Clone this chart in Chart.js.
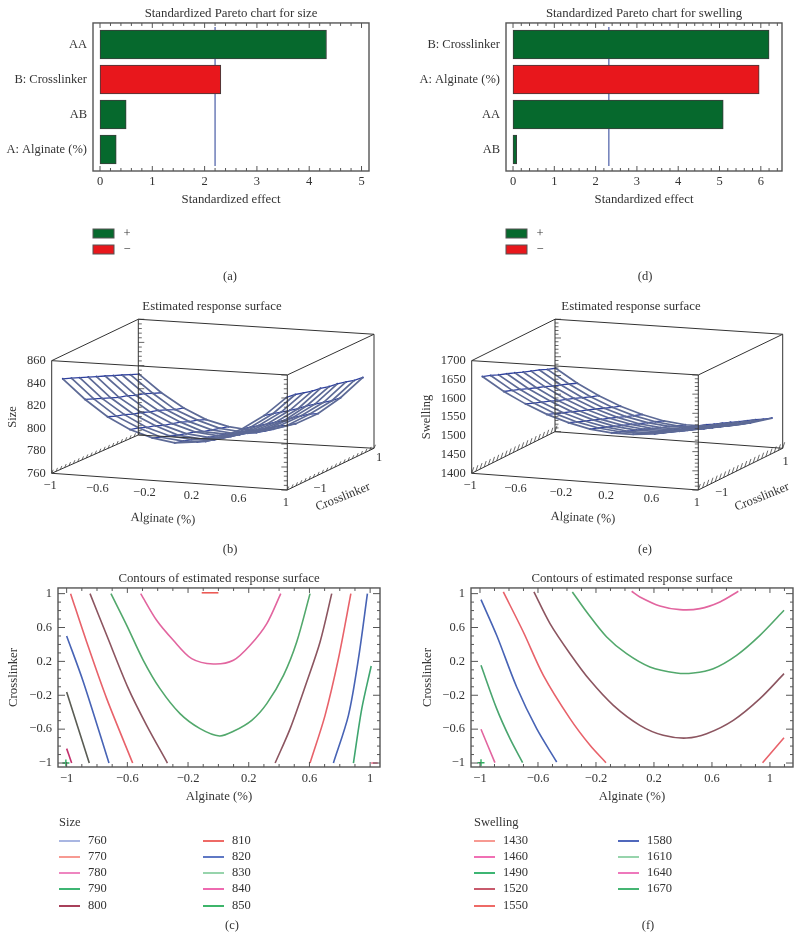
<!DOCTYPE html>
<html>
<head>
<meta charset="utf-8">
<script src="https://cdn.jsdelivr.net/npm/chart.js@4"></script>
<style>
  html, body { margin: 0; background: #fff; }
  canvas { position: absolute; }
</style>
</head>
<body>
<canvas id="chartA" width="400" height="290" style="left:0;top:0"></canvas>
<canvas id="chartD" width="400" height="290" style="left:400px;top:0"></canvas>
<canvas id="chartB" width="400" height="265" style="left:0;top:295px"></canvas>
<canvas id="chartE" width="400" height="265" style="left:400px;top:295px"></canvas>
<canvas id="chartC" width="400" height="375" style="left:0;top:565px"></canvas>
<canvas id="chartF" width="400" height="375" style="left:400px;top:565px"></canvas>
<script>
// pareto charts
const sizeEffects = ["AA", "B: Crosslinker", "AB", "A: Alginate (%)"];
const sizeEffectValues = [4.33, 2.31, 0.5, 0.31];
const sizeEffectSigns = ["+", "-", "+", "+"];
const sizeThreshold = 2.2;
const sizeEffectTicks = [0, 1, 2, 3, 4, 5];

const swellEffects = ["B: Crosslinker", "A: Alginate (%)", "AA", "AB"];
const swellEffectValues = [6.2, 5.96, 5.09, 0.09];
const swellEffectSigns = ["+", "-", "+", "+"];
const swellThreshold = 2.32;
const swellEffectTicks = [0, 1, 2, 3, 4, 5, 6];

// response surfaces: one row per alginate value, one column per crosslinker value
const surfaceAlginate = [-0.95, -0.76, -0.57, -0.38, -0.19, 0, 0.19, 0.38, 0.57, 0.76, 0.95];
const surfaceCrosslinker = [-0.88, -0.68, -0.49, -0.29, -0.1, 0.1, 0.29, 0.49, 0.68, 0.88];
const sizeSurface = [
  [842, 839, 836, 833, 830, 827, 824, 821, 818, 815],
  [825, 822, 819, 816, 813, 811, 808, 806, 803, 800],
  [811, 808, 806, 803, 801, 798, 796, 793, 790, 788],
  [801, 799, 796, 794, 791, 789, 787, 784, 782, 779],
  [795, 792, 790, 787, 785, 783, 780, 778, 776, 774],
  [792, 790, 788, 785, 783, 781, 779, 776, 774, 772],
  [794, 791, 789, 787, 785, 783, 781, 778, 776, 774],
  [799, 797, 795, 793, 791, 789, 787, 785, 782, 780],
  [808, 806, 804, 802, 800, 798, 797, 795, 793, 790],
  [821, 819, 817, 815, 813, 812, 810, 808, 806, 805],
  [838, 837, 835, 833, 832, 830, 829, 827, 825, 824],
];
const swellSurface = [
  [1652, 1644, 1635, 1627, 1619, 1610, 1602, 1594, 1585, 1577],
  [1616, 1608, 1600, 1591, 1583, 1575, 1566, 1558, 1550, 1541],
  [1587, 1578, 1570, 1562, 1553, 1545, 1537, 1528, 1520, 1512],
  [1563, 1554, 1546, 1538, 1529, 1521, 1513, 1504, 1496, 1488],
  [1545, 1536, 1528, 1520, 1511, 1503, 1495, 1486, 1478, 1470],
  [1532, 1524, 1516, 1507, 1499, 1491, 1482, 1474, 1466, 1457],
  [1526, 1518, 1509, 1501, 1493, 1484, 1476, 1468, 1459, 1451],
  [1526, 1518, 1509, 1501, 1493, 1484, 1476, 1468, 1459, 1451],
  [1531, 1523, 1515, 1506, 1498, 1490, 1481, 1473, 1465, 1456],
  [1543, 1534, 1526, 1518, 1509, 1501, 1493, 1484, 1476, 1468],
  [1560, 1552, 1543, 1535, 1527, 1518, 1510, 1502, 1493, 1485],
];
const sizeZTicks = [760, 780, 800, 820, 840, 860];
const swellZTicks = [1400, 1450, 1500, 1550, 1600, 1650, 1700];
const alginateTicks = [-1, -0.6, -0.2, 0.2, 0.6, 1];
const crosslinkerTicks = [-1, -0.6, -0.2, 0.2, 0.6, 1];

// contour lines, [alginate, crosslinker]
const size770 = [[-0.11, 1.01], [0, 1.01]];
const size780 = [[-0.512, 1], [-0.407, 0.685], [-0.297, 0.449], [-0.176, 0.232], [-0.033, 0.169], [0.099, 0.213], [0.209, 0.39], [0.319, 0.646], [0.411, 1]];
const size790 = [[-0.708, 1], [-0.604, 0.626], [-0.495, 0.213], [-0.385, -0.122], [-0.253, -0.417], [-0.121, -0.594], [0.007, -0.681], [0.099, -0.626], [0.22, -0.496], [0.319, -0.299], [0.429, 0.035], [0.516, 0.429], [0.604, 1]];
const size800Left = [[-0.846, 1], [-0.736, 0.508], [-0.593, -0.122], [-0.473, -0.555], [-0.336, -1]];
const size800Right = [[0.374, -1], [0.473, -0.594], [0.582, -0.043], [0.67, 0.429], [0.747, 1]];
const size810Left = [[-0.974, 1], [-0.868, 0.429], [-0.736, -0.24], [-0.565, -1]];
const size810Right = [[0.604, -1], [0.703, -0.437], [0.791, 0.232], [0.873, 1]];
const size820Left = [[-1, 0.5], [-0.89, -0.043], [-0.721, -1]];
const size820Right = [[0.758, -1], [0.857, -0.437], [0.923, 0.232], [0.982, 1]];
const size830Left = [[-1, -0.161], [-0.851, -1]];
const size830Right = [[0.89, -1], [0.945, -0.358], [1.007, 0.146]];
const size840Left = [[-1, -0.83], [-0.967, -1]];
const size840Right = [[1.007, -1], [1.05, -1]];
const size850 = [[-1.005, -1]];

const swell1460 = [[0.046, 1.028], [0.103, 0.961], [0.241, 0.854], [0.379, 0.811], [0.517, 0.823], [0.655, 0.902], [0.782, 1.028]];
const swell1490 = [[-0.363, 1.02], [-0.264, 0.783], [-0.126, 0.488], [0.011, 0.291], [0.172, 0.134], [0.356, 0.063], [0.471, 0.063], [0.609, 0.114], [0.77, 0.272], [0.931, 0.508], [1.097, 0.803]];
const swell1520 = [[-0.628, 1.02], [-0.517, 0.646], [-0.379, 0.291], [-0.241, -0.024], [-0.08, -0.319], [0.103, -0.555], [0.264, -0.673], [0.425, -0.705], [0.563, -0.654], [0.747, -0.496], [0.931, -0.24], [1.097, 0.055]];
const swell1550Left = [[-0.839, 1.02], [-0.701, 0.547], [-0.563, 0.035], [-0.379, -0.476], [-0.241, -0.791], [-0.131, -0.996]];
const swell1550Right = [[0.949, -0.996], [1.097, -0.701]];
const swell1580 = [[-0.993, 0.929], [-0.885, 0.508], [-0.747, -0.102], [-0.609, -0.594], [-0.471, -0.988]];
const swell1610 = [[-0.993, 0.154], [-0.885, -0.358], [-0.793, -0.713], [-0.706, -0.996]];
const swell1640 = [[-0.993, -0.602], [-0.897, -0.996]];
const swell1670 = [[-0.993, -0.996]];

// legends
const sizeLevels = [760, 770, 780, 790, 800, 810, 820, 830, 840, 850];
const sizeKeyColors = ["#a9b6e2", "#f79a92", "#ee86c0", "#3db573", "#a8405a", "#ee6a66", "#5f78c4", "#97d4ac", "#ee6ab0", "#3db56a"];
const swellLevels = [1430, 1460, 1490, 1520, 1550, 1580, 1610, 1640, 1670];
const swellKeyColors = ["#f79a92", "#f070b4", "#3db573", "#c85a6c", "#ee6a66", "#5068bc", "#97d4ac", "#ee78bc", "#45b573"];

const GREEN = "#06692d", RED = "#e8171c", INK = "#333";
const SERIF = "'Liberation Serif', serif";
Chart.defaults.font.family = SERIF;
Chart.defaults.font.size = 12.5;
Chart.defaults.color = INK;
Chart.defaults.animation = false;
Chart.defaults.responsive = false;
Chart.defaults.layout.autoPadding = false;
Chart.defaults.plugins.legend.display = false;
Chart.defaults.plugins.tooltip.enabled = false;

const minus = v => String(v).replace("-", "\u2212");
const titleOpts = text => ({
  display: true, text, fullSize: false,
  font: { size: 12.8, weight: "normal", lineHeight: 1.2 },
  color: INK,
});
const axisTitle = (text, padding) => ({ display: true, text, color: INK, font: { size: 12.8, lineHeight: 1.2 }, padding });

// box and inner tick marks around the plot area
const frame = {
  id: "frame",
  afterDatasetsDraw(chart, args, o) {
    if (!o.show) return;
    const { ctx, chartArea: a, scales: { x, y } } = chart;
    ctx.save();
    ctx.strokeStyle = "#555";
    ctx.lineWidth = 1;
    const tick = (x1, y1, x2, y2) => { ctx.beginPath(); ctx.moveTo(x1, y1); ctx.lineTo(x2, y2); ctx.stroke(); };
    const marks = (from, to, step) => {
      const out = [];
      for (let i = Math.ceil(from / step - 1e-6); i * step <= to + 1e-6; i++) out.push(i * step);
      return out;
    };
    marks(x.min, x.max, o.xMinor).forEach(v => {
      const px = x.getPixelForValue(v);
      const len = o.xMajor.some(m => Math.abs(m - v) < 1e-6) ? 5 : 3;
      tick(px, a.top, px, a.top + len);
      tick(px, a.bottom, px, a.bottom - len);
    });
    if (o.yMinor) marks(y.min, y.max, o.yMinor).forEach(v => {
      const py = y.getPixelForValue(v);
      const len = o.yMajor.some(m => Math.abs(m - v) < 1e-6) ? 7 : 3;
      tick(a.left, py, a.left + len, py);
      tick(a.right, py, a.right - len, py);
    });
    ctx.lineWidth = 1.4;
    ctx.strokeRect(a.left, a.top, a.right - a.left, a.bottom - a.top);
    ctx.restore();
  },
};

// captions, legend keys and the labels of the 3d boxes
const notes = {
  id: "notes",
  afterDraw(chart, args, o) {
    const ctx = chart.ctx;
    ctx.save();
    (o.keys || []).forEach(k => {
      ctx.fillStyle = k.fill;
      ctx.fillRect(k.x, k.y, k.w, k.h);
      if (k.stroke) { ctx.strokeStyle = k.stroke; ctx.lineWidth = 1; ctx.strokeRect(k.x, k.y, k.w, k.h); }
    });
    ctx.fillStyle = INK;
    ctx.font = "12.5px " + SERIF;
    ctx.textBaseline = "middle";
    (o.items || []).forEach(t => {
      ctx.save();
      ctx.translate(t.x, t.y);
      ctx.rotate((t.rot || 0) * Math.PI / 180);
      ctx.textAlign = t.align || "center";
      ctx.fillText(t.text, 0, 0);
      ctx.restore();
    });
    ctx.restore();
  },
};
Chart.register(frame, notes);

function pareto(id, title, names, values, signs, threshold, tickVals, box, xMinor, caption) {
  const left = box.left;
  return new Chart(document.getElementById(id), {
    type: "bar",
    data: {
      datasets: [
        {
          indexAxis: "y",
          data: values.map((v, i) => ({ x: v, y: i })),
          backgroundColor: signs.map(s => (s === "+" ? GREEN : RED)),
          borderColor: "#3c3c3c",
          borderWidth: 1,
          borderSkipped: false,
          barThickness: 29,
          order: 1,
        },
        {
          type: "scatter",
          data: [{ x: threshold, y: -0.5 }, { x: threshold, y: 3.47 }],
          showLine: true,
          pointRadius: 0,
          borderColor: "#6474b4",
          borderWidth: 1.4,
          order: 2,
        },
      ],
    },
    options: {
      layout: { padding: { right: 400 - box.right } },
      scales: {
        x: {
          type: "linear", min: box.xMin, max: box.xMax, offset: false,
          grid: { display: false, drawTicks: false, offset: false }, border: { display: false },
          afterBuildTicks: s => { s.ticks = tickVals.map(v => ({ value: v })); },
          afterFit: s => { s.height = 119; },
          ticks: { padding: 3, maxRotation: 0, autoSkip: false, color: INK },
          title: axisTitle("Standardized effect", { top: 0, bottom: 82.5 }),
        },
        y: {
          type: "linear", reverse: true, min: -0.614, max: 3.614, offset: false,
          grid: { display: false, drawTicks: false, offset: false }, border: { display: false },
          afterBuildTicks: s => { s.ticks = names.map((n, i) => ({ value: i })); },
          afterFit: s => { s.width = left; },
          ticks: { padding: 6, autoSkip: false, color: INK, callback: v => names[v] },
        },
      },
      plugins: {
        title: { ...titleOpts(title), padding: { top: 6.3, bottom: 1.3 } },
        frame: { show: true, xMinor, xMajor: tickVals },
        notes: {
          keys: [
            { x: left, y: 229, w: 21, h: 9, fill: GREEN, stroke: "#555" },
            { x: left, y: 245, w: 21, h: 9, fill: RED, stroke: "#555" },
          ],
          items: [
            { text: "+", x: left + 34, y: 233.5 },
            { text: "\u2212", x: left + 34, y: 250 },
            { text: caption, x: box.capX, y: 277 },
          ],
        },
      },
    },
  });
}

pareto("chartA", "Standardized Pareto chart for size", sizeEffects, sizeEffectValues, sizeEffectSigns, sizeThreshold, sizeEffectTicks,
  { left: 93, right: 369, xMin: -0.134, xMax: 5.143, capX: 230 }, 0.2, "(a)");
pareto("chartD", "Standardized Pareto chart for swelling", swellEffects, swellEffectValues, swellEffectSigns, swellThreshold, swellEffectTicks,
  { left: 106, right: 382, xMin: -0.17, xMax: 6.513, capX: 245 }, 0.2, "(d)");

// maps alginate, crosslinker, z onto the drawn box by its 8 corners
function projector(box, zTicks) {
  const zMin = zTicks[0], zMax = zTicks[zTicks.length - 1];
  return (a, c, z) => {
    const u = (a + 1) / 2, v = (c + 1) / 2, w = (z - zMin) / (zMax - zMin);
    const mix = k => {
      const low = (1 - v) * ((1 - u) * box.fb[0][k] + u * box.fb[1][k]) + v * ((1 - u) * box.bb[0][k] + u * box.bb[1][k]);
      const high = (1 - v) * ((1 - u) * box.ft[0][k] + u * box.ft[1][k]) + v * ((1 - u) * box.bt[0][k] + u * box.bt[1][k]);
      return low + (high - low) * w;
    };
    return { x: mix(0), y: mix(1) };
  };
}

function surfaceChart(id, title, surface, zTicks, zStep, box, look) {
  const p = projector(box, zTicks);
  const zLo = zTicks[0], zHi = zTicks[zTicks.length - 1];
  const line = (data, color, width, extra) => ({ data, borderColor: color, borderWidth: width, pointRadius: 0, showLine: true, spanGaps: false, clip: false, ...extra });

  // wireframe box
  const edges = [];
  [zLo, zHi].forEach(z => {
    edges.push([p(-1, -1, z), p(1, -1, z), p(1, 1, z), p(-1, 1, z), p(-1, -1, z)]);
  });
  [[-1, -1], [1, -1], [1, 1], [-1, 1]].forEach(([a, c]) => edges.push([p(a, c, zLo), p(a, c, zHi)]));

  // tick marks on the box
  const tickPts = [];
  const gap = { x: NaN, y: NaN };
  for (let z = zLo; z <= zHi; z += zStep) {
    const len = zTicks.includes(z) ? 6 : 3.5;
    const back = p(-1, 1, z), front = p(1, -1, z);
    tickPts.push(back, { x: back.x + len, y: back.y }, gap, front, { x: front.x - len, y: front.y }, gap);
  }
  for (let i = 0; i <= 20; i++) {
    const c = -1 + i / 10;
    [-1, 1].forEach(a => {
      const s = p(a, c, zLo);
      tickPts.push(s, { x: s.x + look.hatch[0], y: s.y + look.hatch[1] }, gap);
    });
  }

  // surface lines
  const wires = [];
  surfaceCrosslinker.forEach((c, j) => {
    wires.push(line(surfaceAlginate.map((a, i) => p(a, c, surface[i][j])), "#5d6a96", 1.7));
  });
  surfaceAlginate.forEach((a, i) => {
    wires.push(line(surfaceCrosslinker.map((c, j) => p(a, c, surface[i][j])), "#2f419f", 1.3, { pointRadius: 1, pointBackgroundColor: "#2f419f", pointBorderWidth: 0 }));
  });

  const items = [];
  zTicks.forEach(z => {
    const s = p(-1, -1, z);
    items.push({ text: String(z), x: s.x - 6, y: s.y, align: "right" });
  });
  alginateTicks.forEach(a => {
    const s = p(a, -1, zLo);
    items.push({ text: minus(a), x: s.x - 1.5, y: s.y + 12.4 });
  });
  items.push(...look.text);

  return new Chart(document.getElementById(id), {
    type: "scatter",
    data: {
      datasets: [
        ...edges.map(e => line(e, "#333", 1)),
        line(tickPts, "#444", 0.8),
        ...wires,
      ],
    },
    options: {
      layout: { padding: { left: look.left } },
      scales: {
        x: { type: "linear", display: false, min: look.left, max: 400 },
        y: { type: "linear", display: false, reverse: true, min: 20, max: 265 },
      },
      plugins: {
        title: { ...titleOpts(title), padding: { top: 4.3, bottom: 0.3 } },
        notes: { items },
      },
    },
  });
}

surfaceChart("chartB", "Estimated response surface", sizeSurface, sizeZTicks, 4,
  {
    fb: [[51.7, 178.3], [287.3, 195]], bb: [[138.3, 140], [374, 153.3]],
    ft: [[51.7, 65.7], [287.3, 80]], bt: [[138.3, 24.3], [374, 39.3]],
  },
  {
    left: 24, hatch: [1.5, -3.5],
    text: [
      { text: "\u22121", x: 320, y: 194 },
      { text: "1", x: 379, y: 163 },
      { text: "Alginate (%)", x: 163, y: 224, rot: 2.5 },
      { text: "Crosslinker", x: 343, y: 202, rot: -22 },
      { text: "Size", x: 13, y: 122, rot: -90 },
      { text: "(b)", x: 230, y: 255 },
    ],
  });
surfaceChart("chartE", "Estimated response surface", swellSurface, swellZTicks, 10,
  {
    fb: [[71.7, 178.3], [298.3, 195]], bb: [[155, 136.7], [382.7, 153.3]],
    ft: [[71.7, 65.7], [298.3, 80]], bt: [[155, 24.3], [382.7, 39.3]],
  },
  {
    left: 62, hatch: [2, -6],
    text: [
      { text: "\u22121", x: 321.7, y: 198 },
      { text: "1", x: 385.7, y: 167 },
      { text: "Alginate (%)", x: 183, y: 223, rot: 2.5 },
      { text: "Crosslinker", x: 362, y: 202, rot: -22 },
      { text: "Swelling", x: 27, y: 122, rot: -90 },
      { text: "(e)", x: 245, y: 255 },
    ],
  });

function contourChart(id, curves, levels, keyColors, name, box, caption) {
  const keys = [], items = [{ text: name, x: box.keyX, y: 258, align: "left" }, { text: caption, x: box.capX, y: 361 }];
  const rows = [276, 292, 308, 324, 341];
  levels.forEach((lv, i) => {
    const col = i < 5 ? 0 : 1;
    const kx = box.keyX + col * 144;
    keys.push({ x: kx, y: rows[i % 5] - 1, w: 21, h: 2, fill: keyColors[i] });
    items.push({ text: String(lv), x: kx + 29, y: rows[i % 5], align: "left" });
  });
  return new Chart(document.getElementById(id), {
    type: "scatter",
    data: {
      datasets: curves.map(c => ({
        data: c.pts.map(([x, y]) => ({ x, y })),
        showLine: c.pts.length > 1,
        borderColor: c.color,
        borderWidth: 1.6,
        tension: 0.3,
        clip: false,
        pointRadius: c.pts.length > 1 ? 0 : 3.5,
        pointStyle: "cross",
        pointBorderColor: c.color,
        pointBorderWidth: 1.4,
      })),
    },
    options: {
      layout: { padding: { right: box.padRight } },
      scales: {
        x: {
          type: "linear", min: box.xMin, max: box.xMax,
          grid: { display: false, drawTicks: false }, border: { display: false },
          afterBuildTicks: s => { s.ticks = alginateTicks.map(v => ({ value: v })); },
          afterFit: s => { s.height = 173; },
          ticks: { padding: 4, maxRotation: 0, autoSkip: false, color: INK, callback: minus },
          title: axisTitle("Alginate (%)", { top: 0, bottom: 135.5 }),
        },
        y: {
          type: "linear", min: -1.047, max: 1.067,
          grid: { display: false, drawTicks: false }, border: { display: false },
          afterBuildTicks: s => { s.ticks = crosslinkerTicks.map(v => ({ value: v })); },
          afterFit: s => { s.width = box.left; },
          ticks: { padding: 6, autoSkip: false, color: INK, callback: minus },
          title: axisTitle("Crosslinker", { top: box.yTitlePad, bottom: 0 }),
        },
      },
      plugins: {
        title: { ...titleOpts("Contours of estimated response surface"), padding: { top: 6.3, bottom: 1.3 } },
        frame: { show: true, xMinor: 0.1, xMajor: alginateTicks, yMinor: 0.1, yMajor: crosslinkerTicks },
        notes: { keys, items },
      },
    },
  });
}

contourChart("chartC", [
  { pts: size770, color: "#ec5a55" },
  { pts: size780, color: "#e2659f" },
  { pts: size790, color: "#52a86c" },
  { pts: size800Left, color: "#8c5560" },
  { pts: size800Right, color: "#8c5560" },
  { pts: size810Left, color: "#e8626a" },
  { pts: size810Right, color: "#e8626a" },
  { pts: size820Left, color: "#4763b5" },
  { pts: size820Right, color: "#4763b5" },
  { pts: size830Left, color: "#5a5c54" },
  { pts: size830Right, color: "#3fa56f" },
  { pts: size840Left, color: "#c2306c" },
  { pts: size840Right, color: "#e8708e" },
  { pts: size850, color: "#2fb060" },
], sizeLevels, sizeKeyColors, "Size",
  { left: 58, padRight: 20, xMin: -1.057, xMax: 1.065, keyX: 59, capX: 232, yTitlePad: 5.5 }, "(c)");

contourChart("chartF", [
  { pts: swell1460, color: "#e2659f" },
  { pts: swell1490, color: "#52a86c" },
  { pts: swell1520, color: "#8c5560" },
  { pts: swell1550Left, color: "#e8626a" },
  { pts: swell1550Right, color: "#e8626a" },
  { pts: swell1580, color: "#4763b5" },
  { pts: swell1610, color: "#4aa56f" },
  { pts: swell1640, color: "#e2659f" },
  { pts: swell1670, color: "#2fb060" },
], swellLevels, swellKeyColors, "Swelling",
  { left: 71, padRight: 7, xMin: -1.062, xMax: 1.159, keyX: 74, capX: 248, yTitlePad: 19.5 }, "(f)");
</script>
</body>
</html>
